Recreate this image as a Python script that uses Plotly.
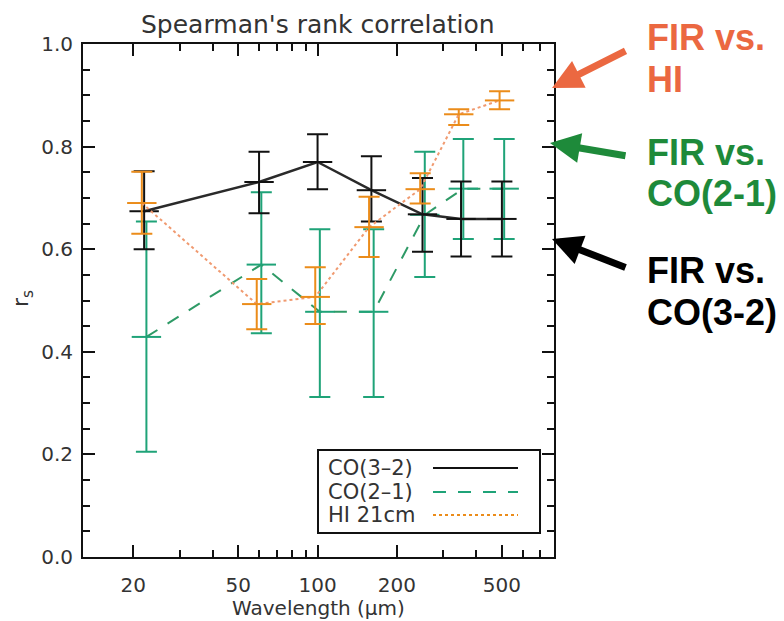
import plotly.graph_objects as go

# Wavelengths of the FIR bands (micron)
wavelength = [22, 60, 100, 160, 250, 350, 500]

# Spearman's rank coefficient r_s with the upper / lower limits of each error bar
co32_rs = [0.674, 0.731, 0.770, 0.715, 0.668, 0.659, 0.659]
co32_hi = [0.752, 0.790, 0.824, 0.781, 0.739, 0.732, 0.732]
co32_lo = [0.600, 0.670, 0.717, 0.654, 0.595, 0.586, 0.586]

co21_rs = [0.429, 0.570, 0.478, 0.478, 0.667, 0.718, 0.718]
co21_hi = [0.654, 0.711, 0.639, 0.639, 0.790, 0.815, 0.815]
co21_lo = [0.205, 0.436, 0.312, 0.312, 0.546, 0.620, 0.620]

hi21_rs = [0.690, 0.493, 0.507, 0.643, 0.717, 0.863, 0.890]
hi21_hi = [0.751, 0.542, 0.565, 0.702, 0.748, 0.873, 0.908]
hi21_lo = [0.630, 0.444, 0.454, 0.585, 0.689, 0.842, 0.873]

series_names = ["CO(3\u20132)", "CO(2\u20131)", "HI 21cm"]
y_ticks = [0.0, 0.2, 0.4, 0.6, 0.8, 1.0]
x_ticks = [20, 50, 100, 200, 500]
x_minor = [30, 40, 60, 70, 80, 90, 300, 400, 600, 700]

BLACK = "#111111"
GREEN_BAR = "#1fa378"
GREEN_LINE = "#2e9a66"
ORANGE_BAR = "#eb8c1a"
ORANGE_LINE = "#f09a70"
LABEL_FONT = "DejaVu Sans"
TEXT_GREY = "#333333"

# plot area in pixels (for placing paper-space decorations)
W, H = 784, 621
L, R, T, B = 83, 230, 44, 64
PW, PH = W - L - R, H - T - B


def px(x):
    return (x - L) / PW


def py(y):
    return (H - B - y) / PH


def label(text, x, y, size, color=TEXT_GREY, family=LABEL_FONT, xanchor="center", **kw):
    return dict(text=text, x=px(x), y=py(y), xref="paper", yref="paper",
                xanchor=xanchor, yanchor="middle", showarrow=False,
                font=dict(family=family, size=size, color=color), **kw)


def series(rs, hi, lo, shift, line_color, bar_color, dash, lw):
    xs = [w * shift for w in wavelength]
    plus = [h - r for h, r in zip(hi, rs)]
    minus = [r - l for r, l in zip(rs, lo)]
    return go.Scatter(
        x=xs, y=rs, mode="lines+markers", showlegend=False,
        line=dict(color=line_color, width=lw, dash=dash),
        marker=dict(symbol="line-ew", size=21, color=bar_color,
                    line=dict(width=2, color=bar_color)),
        error_y=dict(type="data", symmetric=False, array=plus, arrayminus=minus,
                     color=bar_color, thickness=2, width=10.5),
    )


fig = go.Figure()
fig.add_trace(series(co21_rs, co21_hi, co21_lo, 1.02, GREEN_LINE, GREEN_BAR, "13px,12px", 2))
fig.add_trace(series(co32_rs, co32_hi, co32_lo, 1.0, "#2a2a2a", BLACK, "solid", 2.5))
fig.add_trace(series(hi21_rs, hi21_hi, hi21_lo, 0.98, ORANGE_LINE, ORANGE_BAR, "dot", 2))

axis_common = dict(
    showline=True, linecolor=BLACK, linewidth=2, mirror="allticks",
    ticks="inside", ticklen=12, tickwidth=2, tickcolor=BLACK,
    showgrid=False, zeroline=False,
    tickfont=dict(family=LABEL_FONT, size=20, color=TEXT_GREY),
)

fig.update_xaxes(
    type="log", range=[1.1106, 2.8965],
    tickmode="array", tickvals=x_ticks, ticktext=[str(v) for v in x_ticks],
    minor=dict(tickmode="array", tickvals=x_minor, ticks="inside", ticklen=7,
               tickwidth=2, tickcolor=BLACK, showgrid=False),
    ticklabelstandoff=9,
    **axis_common,
)
fig.update_yaxes(
    range=[0, 1.0], tickmode="array", tickvals=y_ticks,
    ticktext=[f"{v:.1f}" for v in y_ticks],
    minor=dict(dtick=0.05, ticks="inside", ticklen=7, tickwidth=2,
               tickcolor=BLACK, showgrid=False),
    ticklabelstandoff=4,
    **axis_common,
)

annotations = [
    label("Spearman's rank correlation", 318, 24, 25),
    label("Wavelength (\u00b5m)", 318, 608, 20),
    label("r<sub>s</sub>", 22, 299, 22, textangle=-90),
]

# hand-drawn legend box: label on the left, line sample on the right
shapes = [dict(type="rect", xref="paper", yref="paper", x0=px(318), x1=px(540),
               y0=py(533), y1=py(450), line=dict(color=BLACK, width=2), fillcolor="white")]
legend_rows = [468, 492, 515]
legend_styles = [(BLACK, "solid"), (GREEN_BAR, "13px,12px"), (ORANGE_BAR, "dot")]
for name, row, (col, dash) in zip(series_names, legend_rows, legend_styles):
    annotations.append(label(name, 326, row, 21, xanchor="left"))
    shapes.append(dict(type="line", xref="paper", yref="paper", x0=px(433), x1=px(518),
                       y0=py(row), y1=py(row), line=dict(color=col, width=2, dash=dash)))

# call-out labels and arrows to the right of the frame
SIDE_FONT = "Liberation Sans"
callouts = [
    ("#eb6841", ["FIR vs.", "HI"], [37.5, 79.5], (552, 88), (627, 50)),
    ("#1e8a3a", ["FIR vs.", "CO(2-1)"], [152, 193], (550, 143), (627, 156)),
    ("#000000", ["FIR vs.", "CO(3-2)"], [270.5, 312.5], (552, 239), (627, 268)),
]
for col, lines, ys, tip, tail in callouts:
    for txt, yy in zip(lines, ys):
        annotations.append(label(f"<b>{txt}</b>", 645, yy, 36, color=col,
                                 family=SIDE_FONT, xanchor="left"))
    annotations.append(dict(text="", x=px(tip[0]), y=py(tip[1]), xref="paper", yref="paper",
                            ax=tail[0] - tip[0], ay=tail[1] - tip[1],
                            axref="pixel", ayref="pixel",
                            showarrow=True, arrowhead=2, arrowsize=0.86, arrowwidth=7,
                            arrowcolor=col, standoff=0))

fig.update_layout(
    width=W, height=H, margin=dict(l=L, r=R, t=T, b=B),
    paper_bgcolor="white", plot_bgcolor="white",
    annotations=annotations, shapes=shapes,
)

fig.write_html("out.html")
